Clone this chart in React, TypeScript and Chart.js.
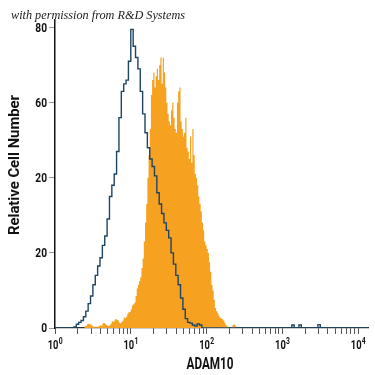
import React, { useEffect, useRef } from "react";
import { Chart, registerables } from "chart.js";

Chart.register(...registerables);

// ---- text ----
const TITLE = "with permission from R&D Systems";
const X_TITLE = "ADAM10";
const Y_TITLE = "Relative Cell Number";
const Y_TICK_VALUES = [0, 20, 40, 60, 80];
const Y_TICK_LABELS = ["0", "20", "20", "60", "80"];
const X_DECADES = [0, 1, 2, 3, 4];

// ---- axes ----
const X_MIN = 0;
const X_MAX = 4.13; // log10 units
const Y_MAX = 82;

// ---- isotype control (blue outline), 32 channels per decade ----
const BLUE_BINS_PER_DECADE = 32;
const BLUE_START = 8;
const BLUE_COUNTS = [
  0.3, 1.0, 1.5, 2.0, 3.0, 4.5, 6.5, 8.5, 11.5, 14,
  16.5, 18.7, 22, 24.5, 29, 35, 38, 41, 47, 56,
  63, 65, 66, 71, 79.5, 75, 72, 69, 63, 57,
  52, 48, 45, 43, 40.5, 36, 33, 30.5, 28, 26,
  24, 20, 17, 14, 11.5, 8, 5, 2.5, 1.5, 1.3,
  0.8, 0.5, 1.1, 0.8,
];
const BLUE_BUMP_BINS = [100, 103, 111];
const BLUE_BUMP_COUNTS = [0.8, 0.8, 0.9];

// ---- ADAM10 stained (orange filled), 64 channels per decade ----
const ORANGE_BINS_PER_DECADE = 64;
const ORANGE_START = 25;
const ORANGE_COUNTS = [
  0.5, 0.6, 1.0, 1.1, 0.9, 1.0, 0.6, 0.3, 0.2, 0.3,
  0.2, 0.4, 0.5, 0.7, 0.6, 1.2, 1.3, 1.1, 0.8, 0.6,
  0.5, 0.7, 1.2, 1.8, 1.6, 2.0, 2.4, 2.2, 2.0, 1.4,
  1.2, 1.6, 2.0, 2.8, 2.6, 3.0, 3.8, 4.2, 4.3, 5.0,
  6.0, 6.3, 6.8, 8.5, 10.5, 11.5, 12.5, 13.5, 16, 18.5,
  23, 28, 33, 40, 46, 53, 62, 66, 68, 64,
  67, 69, 66, 70, 72, 65, 72, 68, 64, 60,
  57, 55, 54, 58, 60, 56, 53, 52, 60, 63,
  64, 55, 53, 51, 52, 56, 48, 47, 45, 51,
  44, 53, 46, 41, 40, 38, 35, 33, 31, 28,
  26, 23, 22, 21, 20, 17.5, 15, 11.5, 10, 7.5,
  5.3, 4.5, 4.0, 3.3, 2.7, 2.5, 2.4, 2.0, 1.4, 0.8,
  0.4, 0.3, 0.1, 0, 0.3, 0.8, 0.9, 0.6,
];

const BLUE_COLOR = "#1f4565";
const ORANGE_COLOR = "#f6a11f";

function fullChannels(perDecade: number, start: number, counts: number[], extraBins: number[] = [], extraCounts: number[] = []) {
  const n = Math.ceil(X_MAX * perDecade);
  const arr = new Array(n).fill(0);
  counts.forEach((c, i) => {
    if (start + i < n) arr[start + i] = c;
  });
  extraBins.forEach((b, i) => {
    if (b < n) arr[b] = extraCounts[i];
  });
  return arr;
}

function stepPoints(arr: number[], perDecade: number) {
  const pts: { x: number; y: number }[] = [];
  arr.forEach((c, i) => {
    const x0 = Math.max(X_MIN, i / perDecade);
    const x1 = Math.min(X_MAX, (i + 1) / perDecade);
    pts.push({ x: x0, y: c });
    pts.push({ x: x1, y: c });
  });
  return pts;
}

function drawText(ctx: CanvasRenderingContext2D, s: string, x: number, y: number, font: string, align: string, sx: number, color = "#111") {
  ctx.save();
  ctx.font = font;
  ctx.fillStyle = color;
  ctx.textBaseline = "alphabetic";
  ctx.textAlign = "left";
  const w = ctx.measureText(s).width * sx;
  const left = align === "center" ? x - w / 2 : align === "right" ? x - w : x;
  ctx.translate(left, y);
  ctx.scale(sx, 1);
  ctx.fillText(s, 0, 0);
  ctx.restore();
}

const textPlugin = {
  id: "textPlugin",
  afterDraw(chart: any) {
    const ctx: CanvasRenderingContext2D = chart.ctx;
    const xs = chart.scales.x;
    const ys = chart.scales.y;

    // title (italic, fitted to width)
    const tFont = 'italic 12.5px "Liberation Serif", serif';
    ctx.save();
    ctx.font = tFont;
    const tw = ctx.measureText(TITLE).width;
    ctx.restore();
    drawText(ctx, TITLE, 11, 18.5, tFont, "left", 174 / tw, "#1a1a1a");

    // y tick labels
    Y_TICK_VALUES.forEach((v, i) => {
      const py = ys.getPixelForValue(v);
      drawText(ctx, Y_TICK_LABELS[i], 47, py + 4.2, "bold 12px Roboto, sans-serif", "right", 0.85, "#111");
    });

    // y title
    ctx.save();
    ctx.font = "bold 15px Roboto, sans-serif";
    const yw = ctx.measureText(Y_TITLE).width;
    ctx.translate(15, 165);
    ctx.rotate(-Math.PI / 2);
    ctx.scale(140 / yw, 1);
    ctx.fillStyle = "#111";
    ctx.textAlign = "center";
    ctx.textBaseline = "middle";
    ctx.fillText(Y_TITLE, 0, 0);
    ctx.restore();

    // x decade labels 10^n
    X_DECADES.forEach((d) => {
      const px = xs.getPixelForValue(d);
      const base = "10";
      const sup = String(d);
      const bFont = "bold 12px Roboto, sans-serif";
      const sFont = "bold 8.5px Roboto, sans-serif";
      ctx.save();
      ctx.font = bFont;
      const wb = ctx.measureText(base).width * 0.78;
      ctx.font = sFont;
      const ws = ctx.measureText(sup).width * 0.8;
      ctx.restore();
      const left = px - (wb + ws) / 2;
      drawText(ctx, base, left, 349, bFont, "left", 0.78, "#111");
      drawText(ctx, sup, left + wb + 0.3, 344, sFont, "left", 0.8, "#111");
    });

    // x title
    const xFont = "bold 16px Roboto, sans-serif";
    ctx.save();
    ctx.font = xFont;
    const xw = ctx.measureText(X_TITLE).width;
    ctx.restore();
    drawText(ctx, X_TITLE, 210, 368.5, xFont, "center", 47 / xw, "#111");
  },
};

export default function App() {
  const ref = useRef<HTMLCanvasElement>(null);

  useEffect(() => {
    document.body.style.margin = "0";
    const canvas = ref.current;
    if (!canvas) return;

    const blue = fullChannels(BLUE_BINS_PER_DECADE, BLUE_START, BLUE_COUNTS, BLUE_BUMP_BINS, BLUE_BUMP_COUNTS);
    const orange = fullChannels(ORANGE_BINS_PER_DECADE, ORANGE_START, ORANGE_COUNTS);

    const xTicks: number[] = [];
    for (let d = 0; d < 4; d++) {
      for (let k = 1; k <= 9; k++) xTicks.push(d + Math.log10(k));
    }
    xTicks.push(4);

    const chart = new Chart(canvas, {
      type: "line",
      data: {
        datasets: [
          {
            label: "control",
            data: stepPoints(blue, BLUE_BINS_PER_DECADE),
            borderColor: BLUE_COLOR,
            borderWidth: 1.4,
            pointRadius: 0,
            fill: false,
            tension: 0,
            borderJoinStyle: "miter",
          },
          {
            label: "ADAM10",
            data: stepPoints(orange, ORANGE_BINS_PER_DECADE),
            borderColor: "rgba(0,0,0,0)",
            backgroundColor: ORANGE_COLOR,
            borderWidth: 0,
            pointRadius: 0,
            fill: "origin",
            tension: 0,
          },
        ],
      },
      options: {
        animation: false,
        responsive: false,
        devicePixelRatio: 1,
        layout: { padding: { top: 20, right: 7, left: 0, bottom: 0 } },
        plugins: { legend: { display: false }, tooltip: { enabled: false } },
        scales: {
          x: {
            type: "linear",
            min: X_MIN,
            max: X_MAX,
            border: { display: true, color: "#2a3440", width: 1.3 },
            grid: { drawOnChartArea: false, drawTicks: true, tickLength: 6, color: "#555", lineWidth: 1 },
            ticks: { display: false },
            afterBuildTicks: (scale: any) => {
              scale.ticks = xTicks.map((v) => ({ value: v }));
            },
            afterFit: (scale: any) => {
              scale.height = 47;
            },
          },
          y: {
            type: "linear",
            min: 0,
            max: Y_MAX,
            border: { display: true, color: "#111", width: 1.5 },
            grid: { drawOnChartArea: false, drawTicks: true, tickLength: 6, color: "#999", lineWidth: 1 },
            ticks: { display: false },
            afterBuildTicks: (scale: any) => {
              scale.ticks = Y_TICK_VALUES.map((v) => ({ value: v }));
            },
            afterFit: (scale: any) => {
              scale.width = 55;
            },
          },
        },
      } as any,
      plugins: [textPlugin],
    });

    return () => chart.destroy();
  }, []);

  return <canvas ref={ref} width={375} height={375} style={{ display: "block", width: 375, height: 375 }} />;
}
